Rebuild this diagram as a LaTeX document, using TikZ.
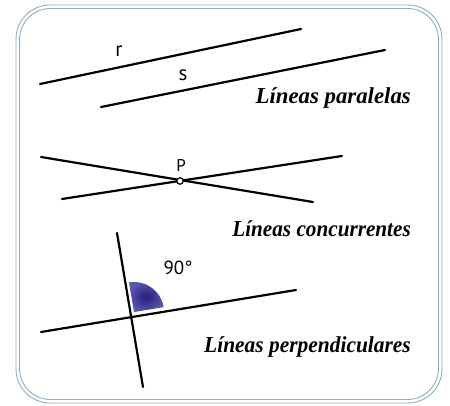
\documentclass[tikz,border=0pt]{standalone}
\usepackage{graphicx}
\usepackage{fontspec}
\setmainfont{Liberation Serif}
\newfontfamily\labfont{PT Sans}
\begin{document}
\begin{tikzpicture}[x=1pt,y=-1pt,
  frameline/.style={draw={rgb,255:red,140;green,175;blue,190},line width=0.9pt,rounded corners=34pt},
  geoline/.style={draw=black,line width=2.2pt,line cap=round},
  caption/.style={font=\bfseries\itshape\fontsize{22.8}{24}\selectfont,anchor=base east,inner sep=0pt},
  lbl/.style={font=\labfont\fontsize{21}{23}\selectfont,inner sep=0pt}]
\useasboundingbox (0,0) rectangle (450,406);
\fill[white] (0,0) rectangle (450,406);
% frame
\draw[frameline] (16,5) rectangle (442,403);
\draw[frameline,rounded corners=31pt] (19.5,8.5) rectangle (438.5,399.5);
% parallel lines
\coordinate (r1) at (40,84);
\coordinate (r2) at (301,29);
\coordinate (s1) at (101,107);
\coordinate (s2) at (385,50);
\draw[geoline] (r1) -- (r2);
\draw[geoline] (s1) -- (s2);
\node[lbl] (rl) at (119,51) {r};
\node[lbl] (sl) at (183,75) {s};
\node[caption] (cap1) at (411,104) {Líneas paralelas};
% concurrent lines
\coordinate (a1) at (41,157);
\coordinate (a2) at (313,202);
\coordinate (b1) at (62,199);
\coordinate (b2) at (342,156);
\draw[geoline] (a1) -- (a2);
\draw[geoline] (b1) -- (b2);
\node[circle,draw=black,fill=white,line width=1.2pt,minimum size=6.5pt,inner sep=0pt] (P) at (180,181) {};
\node[lbl,font=\labfont\fontsize{17}{19}\selectfont] (pl) at (181,165) {P};
\node[caption] (cap2) at (411,237) {\scalebox{0.93}[1]{Líneas concurrentes}};
% perpendicular lines
\coordinate (v1) at (117,233);
\coordinate (v2) at (143,387);
\coordinate (h1) at (41,332);
\coordinate (h2) at (296,290);
\coordinate (w) at (134,312);
\shade[inner color={rgb,255:red,35;green,30;blue,125},outer color={rgb,255:red,90;green,85;blue,175}]
  (w) -- ++(9.3:30pt) arc[start angle=9.3,end angle=99.6,radius=30pt] -- cycle;
\draw[geoline] (v1) -- (v2);
\draw[geoline] (h1) -- (h2);
\node[lbl,font=\labfont\fontsize{19}{21}\selectfont] (al) at (178,268) {90°};
\node[caption] (cap3) at (411,352) {\scalebox{0.94}[1]{Líneas perpendiculares}};
\end{tikzpicture}
\end{document}
